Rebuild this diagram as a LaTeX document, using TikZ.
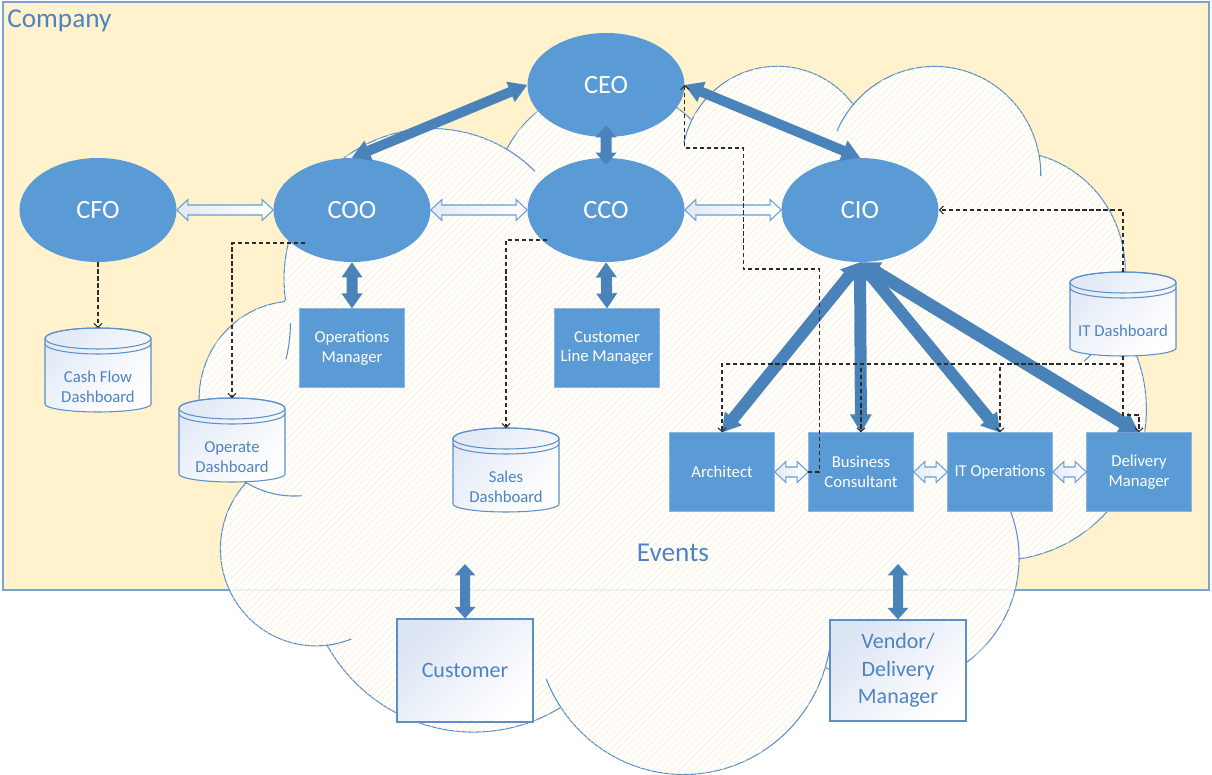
\documentclass[tikz,border=0pt]{standalone}
\usepackage{fontspec}
\setmainfont{Carlito}
\usetikzlibrary{calc,arrows.meta,patterns.meta,shapes.geometric}

\definecolor{pagebeige}{HTML}{FFF2CC}
\definecolor{frameblue}{HTML}{7AA3D3}
\definecolor{cloudline}{HTML}{5B8FC9}
\definecolor{hatchcol}{HTML}{FBF1D6}
\definecolor{nodeblue}{HTML}{5B9BD5}
\definecolor{nodeedge}{HTML}{8DB4E0}
\definecolor{arrowblue}{HTML}{4A83BA}
\definecolor{textblue}{HTML}{4E83C2}
\definecolor{paleblue}{HTML}{DCE5F4}
\definecolor{hollowedge}{HTML}{6A9BD3}
\definecolor{dashcol}{HTML}{2B2B2B}

% double-headed block arrow: style, from, to, shaft half-width, head half-width, head length
\newcommand\blockarrow[6]{%
  \path ($(#2)!#6!(#3)$) coordinate (ba-a) ($(#3)!#6!(#2)$) coordinate (ba-b);
  \path[#1] (#2) -- ($(ba-a)!#5!90:(#3)$) -- ($(ba-a)!#4!90:(#3)$)
    -- ($(ba-b)!#4!-90:(#2)$) -- ($(ba-b)!#5!-90:(#2)$) -- (#3)
    -- ($(ba-b)!#5!90:(#2)$) -- ($(ba-b)!#4!90:(#2)$)
    -- ($(ba-a)!#4!-90:(#3)$) -- ($(ba-a)!#5!-90:(#3)$) -- cycle;}

% data store cylinder: name, centre x, centre y, label
\newcommand\dashboard[4]{%
  \path[cylbody] (#2-53,#3-31.5)
    -- plot[domain=180:0]({#2+53*cos(\t)},{#3+34+8*sin(\t)})
    -- (#2+53,#3-31.5)
    -- plot[domain=0:-180]({#2+53*cos(\t)},{#3-31.5+10.5*sin(\t)}) -- cycle;
  \draw[cylline] (#2,#3-31.5) ellipse[x radius=10.6mm, y radius=2.1mm];
  \draw[cylline] plot[domain=180:0]({#2+53*cos(\t)},{#3-26.5+10.5*sin(\t)});
  \node[dashtext] (#1) at (#2,#3+17) {#4};
  \coordinate (#1-top) at (#2,#3-42);
  \coordinate (#1-bot) at (#2,#3+42);}

\tikzset{
  companybox/.style={draw=frameblue, line width=0.8pt, fill=pagebeige},
  cloudfill/.style={draw=cloudline, line width=0.6pt, fill=white,
    postaction={pattern={Lines[angle=45,distance=2.8pt,line width=0.45pt]}, pattern color=hatchcol}},
  cloudinner/.style={draw=cloudline, line width=0.6pt},
  exec/.style={ellipse, fill=nodeblue, minimum width=31.4mm, minimum height=20.8mm,
    inner sep=0pt, text=white, font=\fontsize{15}{18}\selectfont},
  role/.style={rectangle, fill=nodeblue, draw=nodeedge, line width=0.4pt,
    minimum width=21mm, minimum height=15.7mm, inner sep=0pt, text=white,
    align=center, font=\fontsize{9.5}{11.3}\selectfont},
  party/.style={rectangle, draw=cloudline, line width=0.7pt, top color=paleblue,
    bottom color=white, shading angle=45, minimum width=27.2mm, inner sep=0pt,
    text=textblue, align=center, font=\fontsize{12.5}{15.6}\selectfont},
  cylbody/.style={draw=cloudline, line width=0.6pt, top color=paleblue!80,
    bottom color=white, shading angle=45},
  cylline/.style={draw=cloudline, line width=0.6pt},
  dashtext/.style={text=textblue, align=center, inner sep=0pt,
    font=\fontsize{9.5}{11.3}\selectfont},
  thick link/.style={fill=arrowblue},
  hollow link/.style={draw=hollowedge, line width=0.6pt, left color=paleblue!80, right color=white},
  link/.style={draw=dashcol, line width=0.6pt, dash pattern=on 2.4pt off 1.6pt,
    -{Straight Barb[length=2.2pt,width=4.6pt]}},
  caption/.style={text=textblue, font=\fontsize{15.5}{18}\selectfont, inner sep=0pt}
}

\begin{document}
\begin{tikzpicture}[x=0.2mm, y=-0.2mm, samples=40, variable=\t]
\useasboundingbox (0,0) rectangle (1212,775);

% company frame
\draw[companybox] (3,2) rectangle (1209,590);

% events cloud
\path[cloudfill]
  plot[domain=172.255:300.362]({431.9+147.88*cos(\t)},{279.2+150.62*sin(\t)})
  -- plot[domain=207.96:314.553]({609.8+116.78*cos(\t)},{205.1+119.10*sin(\t)})
  -- plot[domain=206.51:322.657]({777.3+95.59*cos(\t)},{163.7+97.43*sin(\t)})
  -- plot[domain=220.29:349.788]({934.4+106.36*cos(\t)},{174.5+108.09*sin(\t)})
  -- plot[domain=-74.77:23.21]({1008.4+116.78*cos(\t)},{270.4+119.20*sin(\t)})
  -- plot[domain=-37.51:81.863]({998.0+148.36*cos(\t)},{409.3+151.11*sin(\t)})
  -- plot[domain=0.46:121.98]({892.4+126.68*cos(\t)},{557.9+128.93*sin(\t)})
  -- plot[domain=16.842:146.23]({683.8+147.86*cos(\t)},{623.5+151.02*sin(\t)})
  -- plot[domain=58.98:150.18]({473.7+169.05*cos(\t)},{559.3+172.79*sin(\t)})
  -- plot[domain=83.31:223.11]({315.9+95.48*cos(\t)},{548.9+96.99*sin(\t)})
  -- plot[domain=120.35:264.11]({294.3+95.15*cos(\t)},{398.6+97.43*sin(\t)})
  -- cycle;
\draw[cloudinner]
  plot[domain=85.54:120.35]({294.3+95.15*cos(\t)},{398.6+97.43*sin(\t)})
  plot[domain=68.23:83.31]({315.9+95.48*cos(\t)},{548.9+96.99*sin(\t)})
  plot[domain=146.23:158.47]({683.8+147.86*cos(\t)},{623.5+151.02*sin(\t)})
  plot[domain=4.737:16.842]({683.8+147.86*cos(\t)},{623.5+151.02*sin(\t)})
  plot[domain=-64.03:0.46]({892.4+126.68*cos(\t)},{557.9+128.93*sin(\t)})
  plot[domain=23.21:49.65]({1008.4+116.78*cos(\t)},{270.4+119.20*sin(\t)})
  plot[domain=-10.212:0.82]({934.4+106.36*cos(\t)},{174.5+108.09*sin(\t)})
  plot[domain=-156.30:-139.71]({934.4+106.36*cos(\t)},{174.5+108.09*sin(\t)})
  plot[domain=-167.72:-153.49]({777.3+95.59*cos(\t)},{163.7+97.43*sin(\t)})
  plot[domain=-59.638:-45.75]({431.9+147.88*cos(\t)},{279.2+150.62*sin(\t)})
  plot[domain=0.118:13.97]({142.5+147.88*cos(\t)},{322.8+150.62*sin(\t)});
% company edge seen faintly through the cloud
\draw[frameblue, opacity=0.12, line width=0.8pt] (3,590) -- (1209,590);

\node[caption, anchor=west] (company) at (7,21) {Company};
\node[caption] (events) at (673,553) {Events};

% data stores
\dashboard{cash}{98}{370}{Cash Flow\\Dashboard}
\dashboard{oper}{232}{440}{Operate\\Dashboard}
\dashboard{sales}{506}{470}{Sales\\Dashboard}
\dashboard{itd}{1123}{314}{IT Dashboard}

% executives
\node[exec] (CEO) at (606,85) {CEO};
\node[exec] (CFO) at (98,210) {CFO};
\node[exec] (COO) at (352,210) {COO};
\node[exec] (CCO) at (606,210) {CCO};
\node[exec] (CIO) at (860,210) {CIO};

% roles
\node[role] (ops) at (352,348) {Operations\\Manager};
\node[role] (clm) at (607,348) {Customer\\Line Manager};
\node[role] (arch) at (722,472) {Architect};
\node[role] (bc) at (861,472) {Business\\Consultant};
\node[role] (ito) at (1000,472) {IT Operations};
\node[role] (dm) at (1139,472) {Delivery\\Manager};

% outside parties
\node[party, minimum height=20.6mm] (cust) at (465,670.5) {Customer};
\node[party, minimum height=20.2mm] (vend) at (898,670.5) {Vendor/\\Delivery\\Manager};
\coordinate (cust-link) at (465,564);
\coordinate (vend-link) at (898,564);

% thick links
\blockarrow{thick link}{CEO.west}{COO.north}{1mm}{2.2mm}{3.6mm}
\blockarrow{thick link}{CEO.east}{CIO.north}{1mm}{2.2mm}{3.6mm}
\blockarrow{thick link}{$(CEO.south)+(0,-12)$}{$(CCO.north)+(0,7)$}{1.1mm}{2.1mm}{2.4mm}
\blockarrow{thick link}{COO.south}{ops.north}{1.1mm}{2.1mm}{3mm}
\blockarrow{thick link}{CCO.south}{clm.north}{1.1mm}{2.1mm}{3mm}
\blockarrow{thick link}{CIO.south}{arch.north}{1.2mm}{2.2mm}{3.6mm}
\blockarrow{thick link}{CIO.south}{bc.north}{1.2mm}{2.2mm}{3.6mm}
\blockarrow{thick link}{CIO.south}{ito.north}{1.2mm}{2.2mm}{3.6mm}
\blockarrow{thick link}{CIO.south}{dm.north}{1.3mm}{2.3mm}{3.8mm}
\blockarrow{thick link}{cust-link}{cust.north}{1mm}{2.1mm}{2.3mm}
\blockarrow{thick link}{vend-link}{vend.north}{1mm}{2.1mm}{2.3mm}

% hollow links
\blockarrow{hollow link}{CFO.east}{COO.west}{1mm}{2.1mm}{2.2mm}
\blockarrow{hollow link}{COO.east}{CCO.west}{1mm}{2.1mm}{2.2mm}
\blockarrow{hollow link}{CCO.east}{CIO.west}{1mm}{2.1mm}{2.2mm}
\blockarrow{hollow link}{arch.east}{bc.west}{1mm}{2.1mm}{2.2mm}
\blockarrow{hollow link}{bc.east}{ito.west}{1mm}{2.1mm}{2.2mm}
\blockarrow{hollow link}{ito.east}{dm.west}{1mm}{2.1mm}{2.2mm}

% dashed information flows
\draw[link] (CFO.south) -- (cash-top);
\draw[link] ($(COO.center)+(-47,33)$) -| (oper-top);
\draw[link] ($(CCO.center)+(-59,30)$) -| (sales-top);
\draw[link] (bc.west) -- ++(11,0) -- ++(0,-203) -- ++(-76,0) -- ++(0,-121) -| (CEO.east);
\draw[link] (itd-top) |- (CIO.east);
\draw[link] (itd-bot) -- ++(0,8) -| (arch.north);
\draw[link] (itd-bot) -- ++(0,8) -| (bc.north);
\draw[link] (itd-bot) -- ++(0,8) -| (ito.north);
\draw[link] (itd-bot) -- ++(0,59) -| (dm.north);
\end{tikzpicture}
\end{document}
